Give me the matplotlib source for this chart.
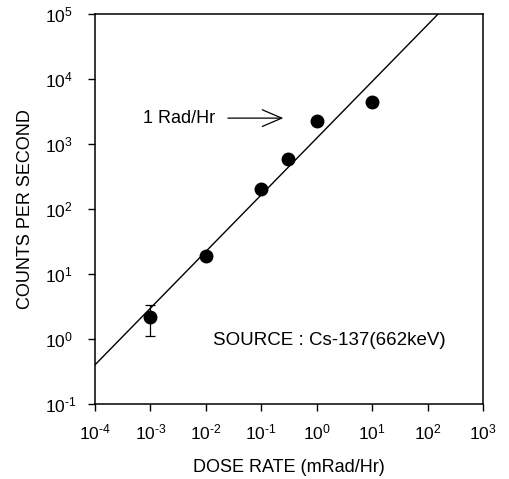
import matplotlib
matplotlib.use("Agg")
import matplotlib.pyplot as plt

# measured points
DOSE_RATE = [1e-3, 1e-2, 1e-1, 0.3, 1.0, 10.0]
COUNTS = [2.2, 19.0, 200.0, 580.0, 2250.0, 4400.0]
ERR_LOW = [1.1, 2.5, 0.0, 0.0, 0.0, 0.0]
ERR_HIGH = [1.1, 3.0, 0.0, 0.0, 0.0, 0.0]

# fitted line endpoints
FIT_X = [1e-4, 155.0]
FIT_Y = [0.4, 1e5]

X_TICKS = [1e-4, 1e-3, 1e-2, 1e-1, 1e0, 1e1, 1e2, 1e3]
X_EXP = ["-4", "-3", "-2", "-1", "0", "1", "2", "3"]
Y_TICKS = [1e-1, 1e0, 1e1, 1e2, 1e3, 1e4, 1e5]
Y_EXP = ["-1", "0", "1", "2", "3", "4", "5"]


def pow_label(e):
    if e.startswith("-"):
        return r"$\mathregular{10^{\text{-}%s}}$" % e[1:]
    return r"$\mathregular{10^{%s}}$" % e


plt.rcParams["font.family"] = ["Liberation Sans", "DejaVu Sans"]
plt.rcParams["mathtext.fontset"] = "custom"
plt.rcParams["mathtext.rm"] = "Liberation Sans"
plt.rcParams["mathtext.it"] = "Liberation Sans"

fig = plt.figure(figsize=(5.09, 4.79), dpi=100)
ax = fig.add_axes([0.1866, 0.1566, 0.949 - 0.1866, 0.9708 - 0.1566])

ax.plot(FIT_X, FIT_Y, color="black", linewidth=1.0)

ax.errorbar(DOSE_RATE, COUNTS, yerr=[ERR_LOW, ERR_HIGH], fmt="o",
            color="black", markersize=9, elinewidth=0.9, capsize=3.5,
            capthick=0.9)

ax.set_xscale("log")
ax.set_yscale("log")
ax.set_xlim(1e-4, 1e3)
ax.set_ylim(1e-1, 1e5)

ax.set_xticks(X_TICKS)
ax.set_xticklabels([pow_label(e) for e in X_EXP])
ax.set_yticks(Y_TICKS)
ax.set_yticklabels([pow_label(e) for e in Y_EXP])
ax.minorticks_off()
ax.tick_params(direction="out", length=5, width=1.0, labelsize=12.5)
ax.tick_params(axis="x", pad=8)
ax.tick_params(axis="y", pad=31)
for lbl in ax.get_yticklabels():
    lbl.set_horizontalalignment("left")

for s in ax.spines.values():
    s.set_linewidth(1.1)

ax.set_xlabel("DOSE RATE (mRad/Hr)", fontsize=13, labelpad=12)
ax.set_ylabel("COUNTS PER SECOND", fontsize=13, labelpad=8)

ax.annotate("", xy=(0.25, 2500), xytext=(0.025, 2500),
            arrowprops=dict(arrowstyle="->,head_length=0.7,head_width=0.3",
                            color="black", lw=0.9, mutation_scale=20,
                            shrinkA=0, shrinkB=0))
ax.text(0.00074, 2500, "1 Rad/Hr", fontsize=13, va="center", ha="left")
ax.text(0.0135, 0.96, "SOURCE : Cs-137(662keV)", fontsize=13.5,
        va="center", ha="left")

fig.savefig("out.png", dpi=100)
